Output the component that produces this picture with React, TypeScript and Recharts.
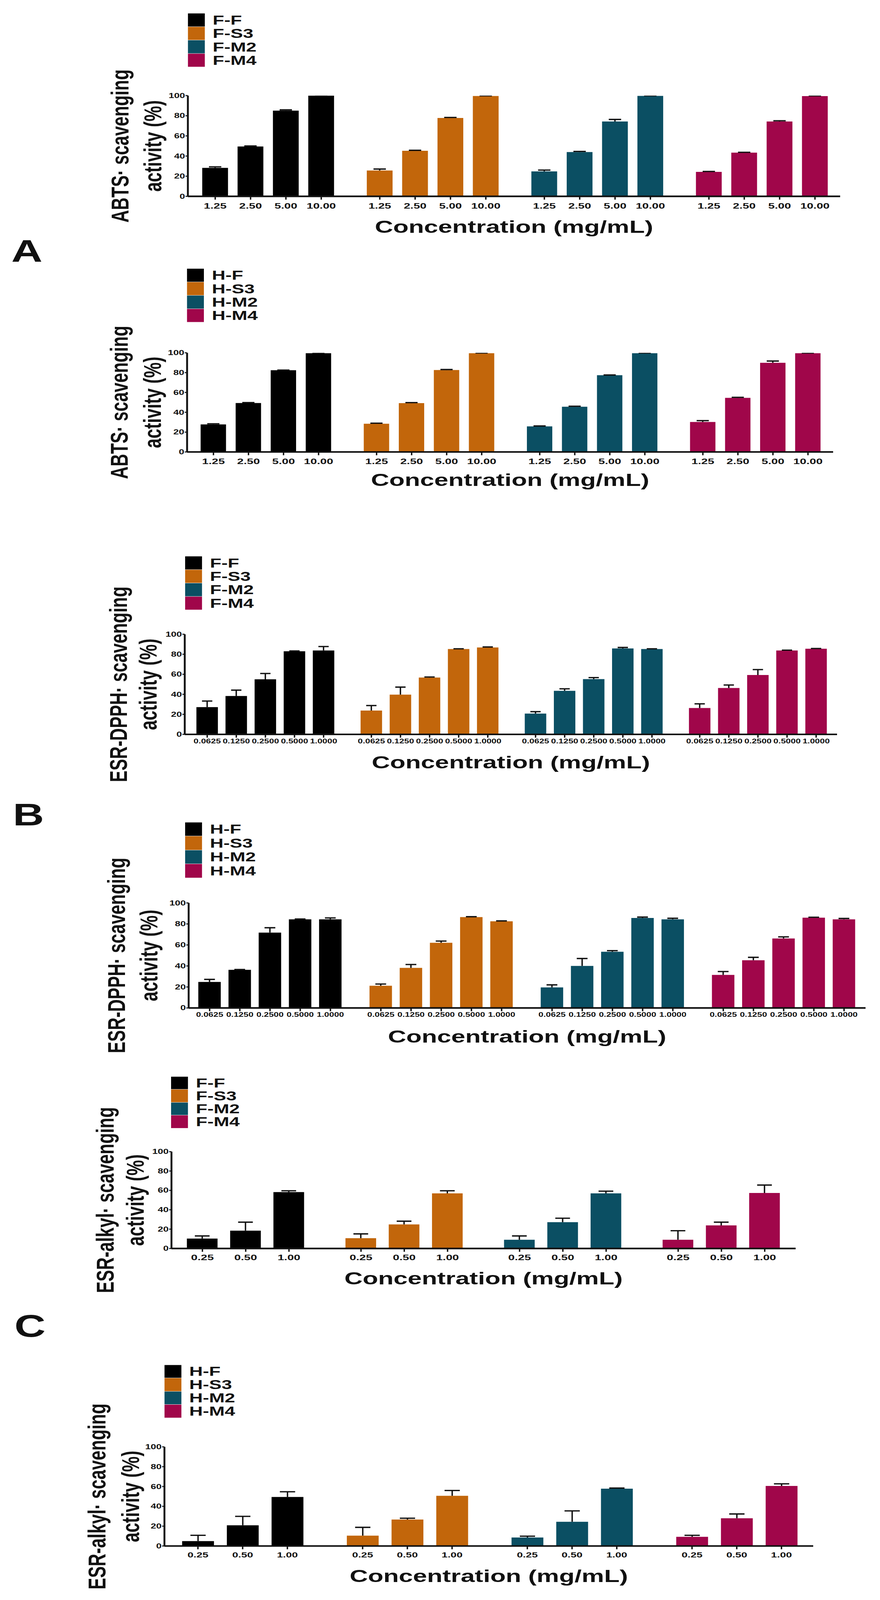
import React from 'react';
import { BarChart, Bar, XAxis, YAxis, Cell, Legend } from 'recharts';

// the published figure is stretched sideways, so every panel is drawn narrower and scaled in x
const K = 1.2;
const PAGE_W = 2253;
const PAGE_H = 4889;
const CW = PAGE_W / K;
const FONT = '"Liberation Sans", Arial, Helvetica, sans-serif';
const INK = '#111111';

const COLORS = ['#000000', '#C2660B', '#0B4F63', '#A0064A'];

const fNames = ['F-F', 'F-S3', 'F-M2', 'F-M4'];
const hNames = ['H-F', 'H-S3', 'H-M2', 'H-M4'];

const abtsConc = ['1.25', '2.50', '5.00', '10.00'];
const dpphConc = ['0.0625', '0.1250', '0.2500', '0.5000', '1.0000'];
const alkylConc = ['0.25', '0.50', '1.00'];

const yTicks = [0, 20, 40, 60, 80, 100];

// ABTS, F samples (mean / SD per series)
const abtsFMean = [
  [28.3, 49.5, 85.0, 100],
  [25.6, 45.2, 77.8, 99.6],
  [24.8, 44.0, 74.3, 99.7],
  [24.3, 43.4, 74.3, 99.5],
];
const abtsFSd = [
  [1.0, 0.5, 0.8, 0.2],
  [1.5, 0.5, 0.5, 0.2],
  [1.3, 0.6, 2.0, 0.2],
  [0.4, 0.3, 0.7, 0.3],
];

// ABTS, H samples
const abtsHMean = [
  [27.8, 49.3, 82.4, 99.6],
  [28.5, 49.2, 82.6, 99.6],
  [25.8, 45.6, 77.4, 99.6],
  [30.2, 54.6, 89.9, 99.6],
];
const abtsHSd = [
  [0.6, 0.5, 0.2, 0.2],
  [0.5, 0.6, 0.5, 0.2],
  [0.4, 0.5, 0.2, 0.2],
  [1.4, 0.5, 1.8, 0.2],
];

// ESR-DPPH, F samples
const dpphFMean = [
  [27.2, 38.3, 55.0, 83.0, 83.8],
  [23.8, 39.7, 56.8, 85.2, 86.8],
  [20.8, 43.5, 55.2, 85.8, 85.2],
  [26.3, 46.3, 59.3, 83.8, 85.5],
];
const dpphFSd = [
  [6.1, 5.9, 5.8, 0.3, 3.9],
  [5.0, 7.5, 0.5, 0.3, 0.5],
  [1.9, 2.0, 1.5, 1.0, 0.3],
  [4.2, 3.0, 5.4, 0.3, 0.3],
];

// ESR-DPPH, H samples
const dpphHMean = [
  [24.8, 36.3, 71.7, 84.4, 84.4],
  [21.2, 38.2, 62.1, 86.5, 82.5],
  [19.6, 40.0, 53.5, 85.7, 84.4],
  [31.5, 45.4, 66.2, 86.0, 84.4],
];
const dpphHSd = [
  [2.4, 0.3, 4.7, 0.3, 1.3],
  [1.6, 3.2, 1.6, 0.4, 0.4],
  [2.4, 7.1, 1.1, 0.8, 1.0],
  [3.2, 2.8, 1.5, 0.4, 0.8],
];

// ESR-alkyl, F samples
const alkylFMean = [
  [10.3, 18.4, 58.3],
  [10.7, 24.9, 56.9],
  [9.1, 27.2, 56.9],
  [9.1, 23.9, 57.3],
];
const alkylFSd = [
  [2.7, 8.8, 1.3],
  [4.4, 3.3, 2.7],
  [3.9, 4.1, 2.3],
  [9.3, 3.3, 8.2],
];

// ESR-alkyl, H samples
const alkylHMean = [
  [4.9, 20.9, 49.4],
  [10.4, 26.7, 50.6],
  [8.6, 24.4, 57.8],
  [9.3, 28.0, 60.6],
];
const alkylHSd = [
  [5.9, 9.0, 5.3],
  [8.4, 1.3, 5.4],
  [1.3, 11.0, 0.6],
  [1.5, 4.3, 2.1],
];

type Lay = {
  top: number;
  height: number;
  axisX: number;
  axisRight: number;
  yTop: number;
  yBottom: number;
  groups: number[];
  pitch: number;
  barW: number;
  tickY: number;
  tickFont: number;
  titleY: number;
  legendX: number;
  legendY: number;
  rowH: number;
  yTitleX: number[];
};

const ErrShape = (p: any) => {
  const { x, y, width, height } = p;
  if (x == null || y == null) return null;
  const cx = x + width / 2;
  const half = width * 0.24;
  return (
    <g>
      <line x1={cx} x2={cx} y1={y} y2={y + height} stroke={INK} strokeWidth={3} />
      <line x1={cx - half} x2={cx + half} y1={y} y2={y} stroke={INK} strokeWidth={4} />
    </g>
  );
};

function LegendBox({ names, rowH }: { names: string[]; rowH: number }) {
  return (
    <div style={{ fontFamily: FONT, fontWeight: 'bold', fontSize: 40, color: INK }}>
      {names.map((nm, i) => (
        <div key={nm} style={{ display: 'flex', alignItems: 'center', height: rowH }}>
          <div style={{ width: 36, height: rowH - 1, background: COLORS[i] }} />
          <span style={{ marginLeft: 17, lineHeight: 1 }}>{nm}</span>
        </div>
      ))}
    </div>
  );
}

function Panel({ names, conc, means, sds, yLine1, lay }: any) {
  const L: Lay = lay;
  const gp = (L.groups[3] - L.groups[0]) / 3 / L.pitch;
  const rows: any[] = [];
  names.forEach((_: string, g: number) =>
    conc.forEach((c: string, i: number) =>
      rows.push({ pos: g * gp + i, conc: c, mean: means[g][i], sd: sds[g][i], fill: COLORS[g] })
    )
  );
  const first = L.groups[0] + L.barW / 2;
  const lastPos = rows[rows.length - 1].pos;
  const last = first + lastPos * L.pitch;
  const domain = [-(first - L.axisX) / L.pitch, lastPos + (L.axisRight - last) / L.pitch];
  const yw = 40;
  const xh = 40;
  const margin = {
    top: L.yTop - L.top,
    bottom: L.top + L.height - L.yBottom - xh,
    left: L.axisX / K - yw,
    right: CW - L.axisRight / K,
  };
  const midX = (L.axisX + L.axisRight) / 2 / K;
  const midY = (L.yTop + L.yBottom) / 2 - L.top;
  const labelOf = (v: number) => {
    const r = rows.find((d) => Math.abs(d.pos - v) < 1e-6);
    return r ? r.conc : '';
  };

  return (
    <div
      style={{
        position: 'absolute',
        left: 0,
        top: L.top,
        width: CW,
        height: L.height,
        transform: `scaleX(${K})`,
        transformOrigin: '0 0',
      }}
    >
      <BarChart width={CW} height={L.height} data={rows} margin={margin}>
        <XAxis
          type="number"
          dataKey="pos"
          domain={domain}
          ticks={rows.map((r) => r.pos)}
          interval={0}
          height={xh}
          axisLine={{ stroke: INK, strokeWidth: 5 }}
          tickLine={{ stroke: INK, strokeWidth: 3 }}
          tickSize={10}
          tick={(p: any) => (
            <text
              x={p.x}
              y={L.tickY - L.top}
              textAnchor="middle"
              dominantBaseline="central"
              fontSize={L.tickFont}
              fontWeight="bold"
              fontFamily={FONT}
              fill={INK}
            >
              {labelOf(p.payload.value)}
            </text>
          )}
          label={{
            content: () => (
              <text
                x={midX}
                y={L.titleY - L.top}
                textAnchor="middle"
                fontSize={54}
                fontWeight="bold"
                fontFamily={FONT}
                fill={INK}
              >
                Concentration (mg/mL)
              </text>
            ),
          }}
        />
        <YAxis
          type="number"
          domain={[0, 100]}
          ticks={yTicks}
          allowDataOverflow
          width={yw}
          axisLine={{ stroke: INK, strokeWidth: 4 }}
          tickLine={{ stroke: INK, strokeWidth: 3 }}
          tickSize={5}
          tickMargin={1}
          tick={(p: any) => (
            <text
              x={p.x}
              y={p.y}
              textAnchor="end"
              dominantBaseline="central"
              fontSize={21}
              fontWeight="bold"
              fontFamily={FONT}
              fill={INK}
            >
              {p.payload.value}
            </text>
          )}
          label={{
            content: () => (
              <g fontSize={53} fontWeight="bold" fontFamily={FONT} fill={INK}>
                <text
                  transform={`translate(${L.yTitleX[0] / K},${midY}) rotate(-90)`}
                  textAnchor="middle"
                  dominantBaseline="central"
                >
                  {yLine1}
                </text>
                <text
                  transform={`translate(${L.yTitleX[1] / K},${midY}) rotate(-90)`}
                  textAnchor="middle"
                  dominantBaseline="central"
                >
                  activity (%)
                </text>
              </g>
            ),
          }}
        />
        <Legend
          layout="horizontal"
          verticalAlign="middle"
          align="center"
          wrapperStyle={{ left: L.legendX / K, top: L.legendY - L.top, width: 260, height: L.rowH * 4 }}
          content={() => <LegendBox names={names} rowH={L.rowH} />}
        />
        <Bar dataKey="mean" stackId="s" barSize={L.barW / K} isAnimationActive={false}>
          {rows.map((r, i) => (
            <Cell key={i} fill={r.fill} />
          ))}
        </Bar>
        <Bar dataKey="sd" stackId="s" barSize={L.barW / K} shape={ErrShape} isAnimationActive={false} />
      </BarChart>
    </div>
  );
}

// panel boxes overlap on purpose so the long rotated titles never touch an svg edge
const lay1: Lay = { top: 0, height: 760, axisX: 481, axisRight: 2151, yTop: 292, yBottom: 600, groups: [518, 939, 1361, 1782], pitch: 90.5, barW: 66, tickY: 629, tickFont: 25, titleY: 711, legendX: 481, legendY: 40, rowH: 41, yTitleX: [307, 391] };
const lay2: Lay = { top: 740, height: 820, axisX: 479, axisRight: 2133, yTop: 1078, yBottom: 1381, groups: [514, 931, 1348, 1767], pitch: 89.7, barW: 65, tickY: 1409, tickFont: 25, titleY: 1485, legendX: 479, legendY: 820, rowH: 41, yTitleX: [305, 390] };
const lay3: Lay = { top: 1600, height: 860, axisX: 473, axisRight: 2143, yTop: 1938, yBottom: 2244, groups: [503, 926, 1344, 1764], pitch: 74.5, barW: 55, tickY: 2265, tickFont: 19, titleY: 2348, legendX: 474, legendY: 1699, rowH: 41, yTitleX: [303, 379] };
const lay4: Lay = { top: 2440, height: 860, axisX: 483, axisRight: 2216, yTop: 2759, yBottom: 3080, groups: [508, 948, 1383, 1823], pitch: 77.3, barW: 57.5, tickY: 3100, tickFont: 19, titleY: 3186, legendX: 474, legendY: 2512, rowH: 42.5, yTitleX: [298, 381] };
const lay5: Lay = { top: 3250, height: 760, axisX: 439, axisRight: 2037, yTop: 3519, yBottom: 3815, groups: [479, 885, 1291, 1697], pitch: 110.8, barW: 78.5, tickY: 3842, tickFont: 25, titleY: 3925, legendX: 438, legendY: 3289, rowH: 39.5, yTitleX: [269, 346] };
const lay6: Lay = { top: 4110, height: 779, axisX: 421, axisRight: 2082, yTop: 4421, yBottom: 4724, groups: [466, 889, 1309, 1731], pitch: 114.5, barW: 81.5, tickY: 4751, tickFont: 23, titleY: 4834, legendX: 421, legendY: 4170, rowH: 40.5, yTitleX: [248, 334] };

const panelLetters = [
  { t: 'A', x: 29, y: 800 },
  { t: 'B', x: 33, y: 2522 },
  { t: 'C', x: 37, y: 4084 },
];

export default function App() {
  // fit the whole figure into whatever viewport the page really gets
  const vw = typeof window !== 'undefined' && window.innerWidth > 500 ? window.innerWidth : PAGE_W;
  const vh = typeof window !== 'undefined' && window.innerHeight > 500 ? window.innerHeight : PAGE_H;
  const sx = vw / PAGE_W;
  const sy = vh / PAGE_H;
  return (
    <div style={{ position: 'fixed', left: 0, top: 0, width: vw, height: vh, overflow: 'hidden', background: '#fff' }}>
      <div
        style={{
          position: 'absolute',
          left: 0,
          top: 0,
          width: PAGE_W,
          height: PAGE_H,
          transform: `scale(${sx}, ${sy})`,
          transformOrigin: '0 0',
        }}
      >
        <Panel names={fNames} conc={abtsConc} means={abtsFMean} sds={abtsFSd} yLine1="ABTS· scavenging" lay={lay1} />
        <Panel names={hNames} conc={abtsConc} means={abtsHMean} sds={abtsHSd} yLine1="ABTS· scavenging" lay={lay2} />
        <Panel names={fNames} conc={dpphConc} means={dpphFMean} sds={dpphFSd} yLine1="ESR-DPPH· scavenging" lay={lay3} />
        <Panel names={hNames} conc={dpphConc} means={dpphHMean} sds={dpphHSd} yLine1="ESR-DPPH· scavenging" lay={lay4} />
        <Panel names={fNames} conc={alkylConc} means={alkylFMean} sds={alkylFSd} yLine1="ESR-alkyl· scavenging" lay={lay5} />
        <Panel names={hNames} conc={alkylConc} means={alkylHMean} sds={alkylHSd} yLine1="ESR-alkyl· scavenging" lay={lay6} />
        <svg width={PAGE_W} height={PAGE_H} style={{ position: 'absolute', left: 0, top: 0, pointerEvents: 'none' }}>
          {panelLetters.map((p) => (
            <text
              key={p.t}
              transform={`translate(${p.x},${p.y}) scale(1.15,1)`}
              fontSize={96}
              fontWeight="bold"
              fontFamily={FONT}
              fill={INK}
            >
              {p.t}
            </text>
          ))}
        </svg>
      </div>
    </div>
  );
}
